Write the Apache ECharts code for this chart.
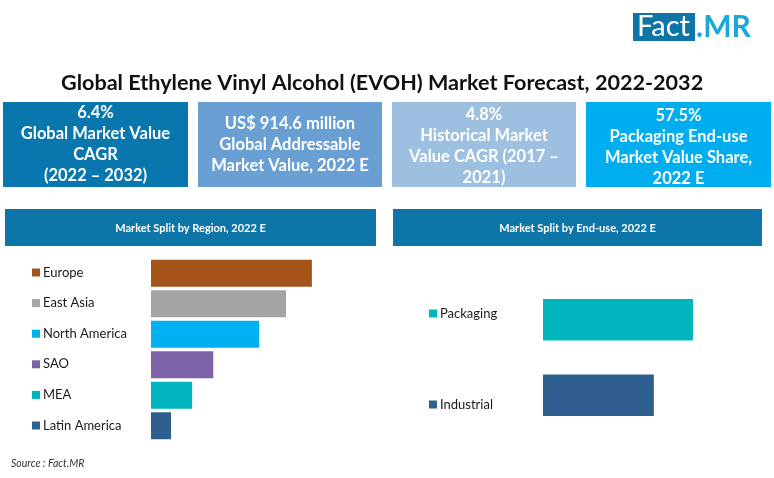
<!DOCTYPE html>
<html>
<head>
<meta charset="utf-8">
<style>
html, body { margin: 0; padding: 0; background: #fff; }
#chart { width: 774px; height: 478px; }
</style>
<script src="https://cdn.jsdelivr.net/npm/echarts@6/dist/echarts.min.js"></script>
</head>
<body>
<div id="chart"></div>
<script>
var regions = ['Europe', 'East Asia', 'North America', 'SAO', 'MEA', 'Latin America'];
var regionShares = [30.5, 25.6, 20.5, 11.8, 7.8, 3.8];
var regionColors = ['#a5541a', '#a5a5a5', '#00b0f0', '#7e62a8', '#00b5bd', '#2e5f8e'];

var endUses = ['Packaging', 'Industrial'];
var endUseShares = [57.5, 42.5];
var endUseColors = ['#00b5bd', '#2e5f8e'];

var kpiTexts = [
    '6.4%\nGlobal Market Value\nCAGR\n(2022 – 2032)',
    'US$ 914.6 million\nGlobal Addressable\nMarket Value, 2022 E',
    '4.8%\nHistorical Market\nValue CAGR (2017 –\n2021)',
    '57.5%\nPackaging End-use\nMarket Value Share,\n2022 E'
];
var kpiColors = ['#0a76ae', '#6a9fd3', '#9dbfe0', '#00aeef'];
var kpiX = [3, 198, 392, 586];
var kpiW = [185, 184, 184, 185];
var kpiTextY = [144.5, 145, 146, 147];

var bannerTexts = ['Market Split by Region, 2022 E', 'Market Split by End-use, 2022 E'];
var bannerX = [5, 393];
var bannerW = [371, 369];

var font = 'Lato';
var chart = echarts.init(document.getElementById('chart'));

// one series per category so the legend can carry the coloured squares
function barSeries(names, values, colors, axisIndex, barWidth) {
    return names.map(function(name, i) {
        return {
            name: name,
            type: 'bar',
            xAxisIndex: axisIndex,
            yAxisIndex: axisIndex,
            barWidth: barWidth,
            barGap: '-100%',
            itemStyle: { color: colors[i] },
            data: names.map(function(n, j) { return j === i ? values[i] : null; })
        };
    });
}

function legendFor(names, left, top, gap) {
    return {
        orient: 'vertical',
        left: left,
        top: top,
        padding: 0,
        data: names,
        icon: 'rect',
        itemWidth: 8,
        itemHeight: 8,
        itemGap: gap,
        selectedMode: false,
        textStyle: { fontFamily: font, fontSize: 13, color: '#1a1a1a', padding: [0, 0, 0, -2] }
    };
}

var graphics = [];
kpiTexts.forEach(function(t, i) {
    graphics.push({
        type: 'rect',
        shape: { x: kpiX[i], y: 102, width: kpiW[i], height: 85 },
        style: { fill: kpiColors[i] }
    });
    graphics.push({
        type: 'text',
        x: kpiX[i] + kpiW[i] / 2,
        y: kpiTextY[i],
        style: {
            text: t, fill: '#fff', font: 'bold 16.5px ' + font,
            align: 'center', verticalAlign: 'middle', lineHeight: 21
        }
    });
});
bannerTexts.forEach(function(t, i) {
    graphics.push({
        type: 'rect',
        shape: { x: bannerX[i], y: 209, width: bannerW[i], height: 37 },
        style: { fill: '#0e75a8' }
    });
    graphics.push({
        type: 'text',
        x: bannerX[i] + bannerW[i] / 2,
        y: 228,
        style: {
            text: t, fill: '#fff', font: 'bold 11px ' + font,
            align: 'center', verticalAlign: 'middle'
        }
    });
});
// logo
graphics.push({ type: 'rect', shape: { x: 633, y: 13, width: 62, height: 28 }, style: { fill: '#0f75a8' } });
graphics.push({
    type: 'text', x: 637, y: 27,
    style: { text: 'Fact', fill: '#fff', font: '29px ' + font, verticalAlign: 'middle' }
});
graphics.push({
    type: 'text', x: 696, y: 27,
    style: { text: '.MR', fill: '#1aa7dc', font: 'bold 30px ' + font, verticalAlign: 'middle' }
});
graphics.push({
    type: 'text', x: 11, y: 464,
    style: { text: 'Source : Fact.MR', fill: '#333', font: 'italic 10.5px ' + font, verticalAlign: 'middle' }
});

var option = {
    animation: false,
    backgroundColor: '#fff',
    title: {
        text: 'Global Ethylene Vinyl Alcohol (EVOH) Market Forecast, 2022-2032',
        left: 61,
        top: 72,
        padding: [0, 0, 0, 0],
        textStyle: { fontFamily: font, fontSize: 21.6, fontWeight: 'bold', color: '#111' }
    },
    legend: [
        legendFor(regions, 32, 266, 17.6),
        legendFor(endUses, 429, 307, 78)
    ],
    grid: [
        { left: 151, top: 258, width: 211, height: 183 },
        { left: 543, top: 282, width: 156.5, height: 151 }
    ],
    xAxis: [
        { gridIndex: 0, type: 'value', min: 0, max: 40, show: false },
        { gridIndex: 1, type: 'value', min: 0, max: 60, show: false }
    ],
    yAxis: [
        { gridIndex: 0, type: 'category', data: regions, inverse: true, show: false },
        { gridIndex: 1, type: 'category', data: endUses, inverse: true, show: false }
    ],
    series: barSeries(regions, regionShares, regionColors, 0, 27)
        .concat(barSeries(endUses, endUseShares, endUseColors, 1, 41.5)),
    graphic: graphics
};
chart.setOption(option);
</script>
</body>
</html>
